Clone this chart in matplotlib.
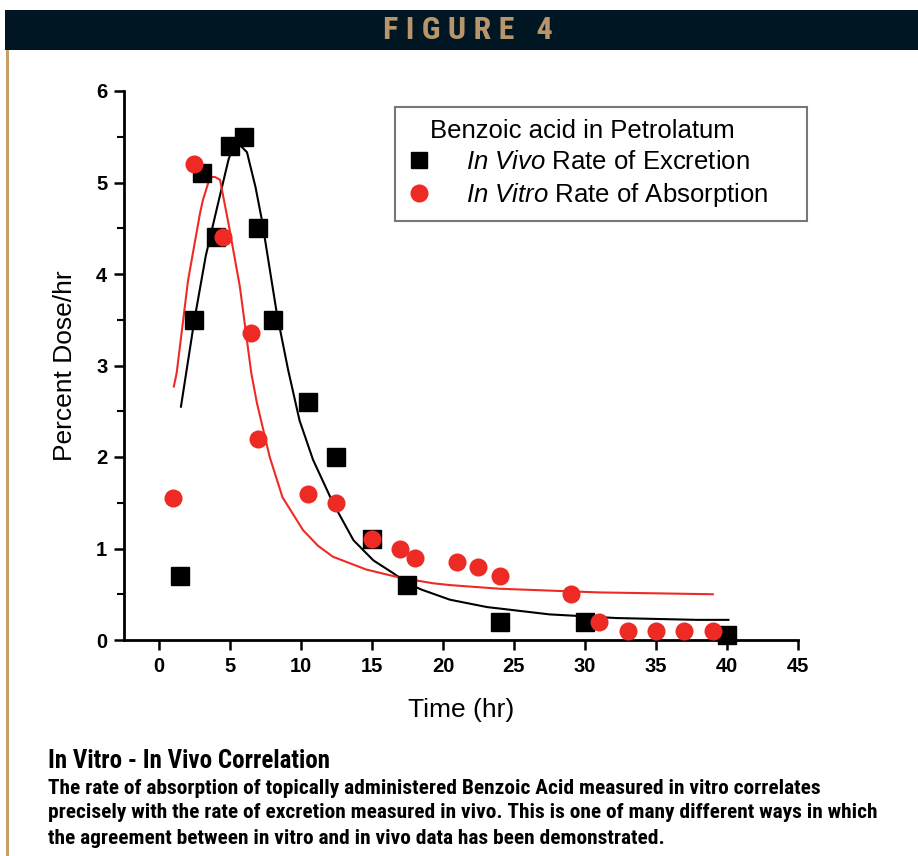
import matplotlib
matplotlib.use("Agg")
import matplotlib.pyplot as plt
from matplotlib.patches import Rectangle
from matplotlib.lines import Line2D
from matplotlib.ticker import MultipleLocator

plt.rcParams['font.family'] = ['Liberation Sans', 'DejaVu Sans']
plt.rcParams['mathtext.fontset'] = 'custom'
plt.rcParams['mathtext.it'] = 'Liberation Sans:italic'
plt.rcParams['mathtext.rm'] = 'Liberation Sans'

# in vivo excretion (squares)
vivo_t = [1.5, 2.5, 3, 4, 5, 6, 7, 8, 10.5, 12.5, 15, 17.5, 24, 30, 40]
vivo_rate = [0.7, 3.5, 5.1, 4.4, 5.4, 5.5, 4.5, 3.5, 2.6, 2.0, 1.1, 0.6, 0.2, 0.2, 0.05]

# in vitro absorption (circles)
vitro_t = [1, 2.5, 4.5, 6.5, 7, 10.5, 12.5, 15, 17, 18, 21, 22.5, 24, 29, 31, 33, 35, 37, 39]
vitro_rate = [1.55, 5.2, 4.4, 3.35, 2.2, 1.6, 1.5, 1.1, 1.0, 0.9, 0.85, 0.8, 0.7, 0.5, 0.2, 0.1, 0.1, 0.1, 0.1]

# fitted curves
vivo_fit_t = [1.55, 2.5, 3.3, 4.1, 4.9, 5.2, 5.7, 6.2, 6.8, 7.25, 8.3, 9.1, 9.9, 10.85, 12.25,
              13.7, 15.1, 16.5, 17.5, 18.5, 20.5, 23.1, 27.5, 32.2, 37.9, 40.1]
vivo_fit = [2.55, 3.5, 4.2, 4.73, 5.25, 5.38, 5.41, 5.33, 4.95, 4.59, 3.57, 2.95, 2.4, 1.97, 1.5,
            1.09, 0.87, 0.73, 0.62, 0.55, 0.44, 0.36, 0.28, 0.24, 0.22, 0.22]
vitro_fit_t = [1.05, 1.25, 2.05, 2.9, 3.1, 3.6, 3.95, 4.3, 4.9, 5.7, 6.5, 6.9, 7.8, 8.7,
               10.15, 11.2, 12.25, 14.6, 17.0, 19.3, 20.5, 24, 31, 39]
vitro_fit = [2.77, 2.92, 3.93, 4.67, 4.81, 5.06, 5.06, 5.03, 4.55, 3.86, 2.92, 2.59, 2.0, 1.56,
             1.2, 1.03, 0.91, 0.77, 0.68, 0.62, 0.6, 0.56, 0.52, 0.5]

legend_title = "Benzoic acid in Petrolatum"
vivo_label = r"$\mathit{In\ Vivo}$ Rate of Excretion"
vitro_label = r"$\mathit{In\ Vitro}$ Rate of Absorption"

caption_title = "In Vitro - In Vivo Correlation"
caption_lines = [
    "The rate of absorption of topically administered Benzoic Acid measured in vitro correlates",
    "precisely with the rate of excretion measured in vivo. This is one of many different ways in which",
    "the agreement between in vitro and in vivo data has been demonstrated.",
]

red = '#ee2a24'
navy = '#011623'
tan = '#b8956a'
narrow = ['Roboto Condensed', 'Liberation Sans Narrow', 'Liberation Sans']

fig = plt.figure(figsize=(9.18, 8.56), dpi=100)

# header band and left rule
fig.patches.append(Rectangle((5 / 918, 1 - 50 / 856), 1, 40 / 856, transform=fig.transFigure,
                             facecolor=navy, edgecolor='none', zorder=0))
fig.patches.append(Rectangle((6 / 918, 0), 2.5 / 918, 1 - 50 / 856, transform=fig.transFigure,
                             facecolor='#c8a06a', edgecolor='none', zorder=0))
fig.text(468 / 918, 1 - 30 / 856, "F I G U R E   4", color=tan, fontsize=23, fontweight='bold',
         family=narrow, ha='center', va='center')

ax = fig.add_axes([124 / 918, 1 - 640 / 856, 674 / 918, 549 / 856])
ax.plot(vivo_fit_t, vivo_fit, color='black', lw=1.5, zorder=2)
ax.plot(vitro_fit_t, vitro_fit, color=red, lw=1.5, zorder=2)
ax.plot(vivo_t, vivo_rate, 's', color='black', ms=12.5, zorder=3, clip_on=False)
ax.plot(vitro_t, vitro_rate, 'o', color=red, ms=13, mec='none', zorder=4, clip_on=False)

ax.set_xlim(-2.46, 45)
ax.set_ylim(0, 6)
ax.xaxis.set_major_locator(MultipleLocator(5))
ax.yaxis.set_major_locator(MultipleLocator(1))
ax.yaxis.set_minor_locator(MultipleLocator(0.5))
for s in ['top', 'right']:
    ax.spines[s].set_visible(False)
for s in ['left', 'bottom']:
    ax.spines[s].set_linewidth(2)
ax.tick_params(which='major', direction='out', length=7, width=1.8, labelsize=14.5, pad=5)
ax.tick_params(which='minor', direction='out', length=5, width=1.5)
for lab in ax.get_xticklabels() + ax.get_yticklabels():
    lab.set_fontweight('bold')

ax.set_xlabel("Time (hr)", fontsize=19, labelpad=16)
ax.set_ylabel("Percent Dose/hr", fontsize=19, labelpad=14)

handles = [Line2D([], [], ls='none'),
           Line2D([], [], marker='s', ls='none', color='black', ms=11),
           Line2D([], [], marker='o', ls='none', color=red, mec='none', ms=13)]
leg = fig.legend(handles, [legend_title, vivo_label, vitro_label], loc='upper left',
                 bbox_to_anchor=(395 / 918, 1 - 217 / 856, 412 / 918, 110 / 856), mode='expand',
                 borderaxespad=0, fontsize=18.5, frameon=True, fancybox=False,
                 edgecolor='#555555', handlelength=1.0, handletextpad=1.3, borderpad=0.45,
                 labelspacing=0.28)
leg.get_frame().set_linewidth(1.5)
# title line sits flush without a marker
leg.get_texts()[0].set_position((-36, 0))

fig.text(48 / 918, 1 - 761 / 856, caption_title, fontsize=18, fontweight='bold',
         family=narrow, va='center')
for i, line in enumerate(caption_lines):
    fig.text(48 / 918, 1 - (788 + 25 * i) / 856, line, fontsize=15.4, fontweight='bold',
             family=narrow, va='center')

fig.savefig('out.png', dpi=100)
